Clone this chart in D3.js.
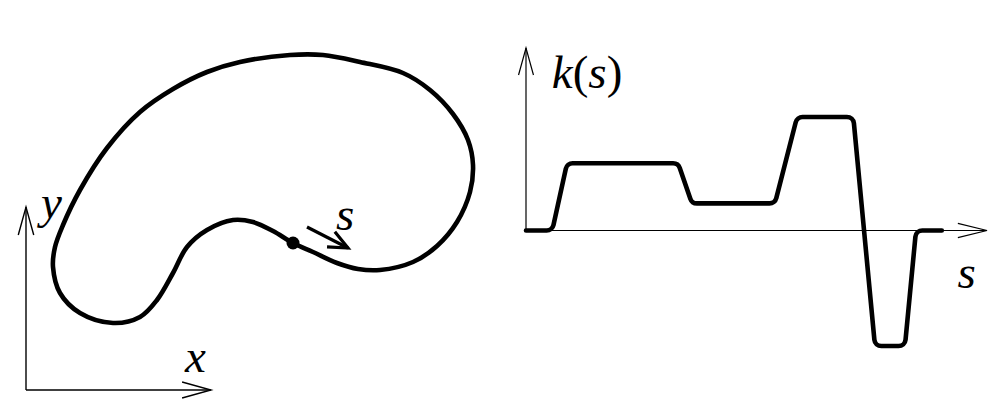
<!DOCTYPE html>
<html><head><meta charset="utf-8">
<script src="https://cdn.jsdelivr.net/npm/d3@7"></script>
<style>html,body{margin:0;padding:0;background:#fff;}svg{display:block;}</style>
</head><body>
<svg id="c" width="1006" height="412"></svg>
<script>
// Left panel: closed planar curve (x, y) in its own coordinates, starting at the marked point and going along s
const curveX = [267,287,311,332,354,387,411,431,444,447,442,427,404,377,334,297,264,214,181,147,114,81,54,37,29,27,34,54,87,114,131,147,161,181,207,227,247];
const curveY = [147,138,127,121,120,128,144,168,198,225,250,276,300,317,328,335,335,328,318,301,278,242,200,165,143,123,97,77,67,73,90,117,143,160,170,168,159];
const startIndex = 0;

// Right panel: curvature k as a function of arc length s (piecewise linear, corner vertices)
const sValues = [0, 5.7, 8.9, 33.0, 36.0, 54.0, 58.8, 71.0, 75.7, 82.2, 84.6, 90.2];
const kValues = [0, 0, 0.593, 0.593, 0.239, 0.239, 1.0, 1.0, -1.018, -1.018, 0, 0];

const axisLabelsLeft = ["x", "y", "s"];
const axisLabelsRight = ["s", "k", "s"];

const FONT = "'Liberation Serif','Times New Roman',serif";
const svg = d3.select("#c");

function label(g, x, y, txt) {
  return g.append("text").attr("x", x).attr("y", y).attr("font-size", 47)
    .attr("font-family", FONT).attr("font-style", "italic").attr("fill", "#000").text(txt);
}

// ---------- left panel ----------
const xL = d3.scaleLinear().domain([0, 200]).range([26, 226]);
const yL = d3.scaleLinear().domain([0, 200]).range([390, 190]);
const gL = svg.append("g");

function openArrow(g, x1, y1, x2, y2, head, spread, w) {
  g.append("line").attr("x1", x1).attr("y1", y1).attr("x2", x2).attr("y2", y2)
    .attr("stroke", "#000").attr("stroke-width", w);
  const a = Math.atan2(y2 - y1, x2 - x1);
  const pts = [[x2 - head * Math.cos(a - spread), y2 - head * Math.sin(a - spread)], [x2, y2],
               [x2 - head * Math.cos(a + spread), y2 - head * Math.sin(a + spread)]];
  g.append("path").attr("d", d3.line()(pts)).attr("fill", "none")
    .attr("stroke", "#000").attr("stroke-width", w).attr("stroke-linejoin", "miter");
}

// axes
openArrow(gL, xL(0), yL(0), xL(185), yL(0), 30, 0.27, 1.4);
openArrow(gL, xL(0), yL(0), xL(0), yL(183), 29, 0.27, 1.4);
label(gL, xL(159), yL(18), axisLabelsLeft[0]);
label(gL, xL(15), yL(172), axisLabelsLeft[1]);

const pts = curveX.map((x, i) => [xL(x), yL(curveY[i])]);
gL.append("path").attr("d", d3.line().curve(d3.curveCatmullRomClosed.alpha(0.5))(pts))
  .attr("fill", "none").attr("stroke", "#000").attr("stroke-width", 4.6);
const p0 = pts[startIndex];
gL.append("circle").attr("cx", p0[0]).attr("cy", p0[1]).attr("r", 6.5).attr("fill", "#000");
// direction arrow for s
openArrow(gL, p0[0] + 14, p0[1] - 16, p0[0] + 55, p0[1] + 5, 21, 0.42, 3.2);
label(gL, p0[0] + 43, p0[1] - 13, axisLabelsLeft[2]);

// ---------- right panel ----------
const xR = d3.scaleLinear().domain([0, 100]).range([526, 987]);
const yR = d3.scaleLinear().domain([0, 1]).range([230.5, 117]);
const gR = svg.append("g");
openArrow(gR, xR(0), yR(0), xR(100), yR(0), 30, 0.24, 1.2);
openArrow(gR, xR(0), yR(0), xR(0), 48, 28, 0.27, 1.2);

function roundedPath(points, r) {
  const p = d3.path();
  p.moveTo(points[0][0], points[0][1]);
  for (let i = 1; i < points.length - 1; i++) {
    p.arcTo(points[i][0], points[i][1], points[i + 1][0], points[i + 1][1], r);
  }
  const last = points[points.length - 1];
  p.lineTo(last[0], last[1]);
  return p.toString();
}
const kpts = sValues.map((s, i) => [xR(s), yR(kValues[i])]);
gR.append("path").attr("d", roundedPath(kpts, 7)).attr("fill", "none")
  .attr("stroke", "#000").attr("stroke-width", 4.6).attr("stroke-linecap", "round");

const kt = label(gR, xR(5.6), 88, "");
kt.append("tspan").text(axisLabelsRight[1]);
kt.append("tspan").attr("font-style", "normal").text("(");
kt.append("tspan").text(axisLabelsRight[2]);
kt.append("tspan").attr("font-style", "normal").text(")");
label(gR, xR(93.6), 288, axisLabelsRight[0]);
</script>
</body></html>
